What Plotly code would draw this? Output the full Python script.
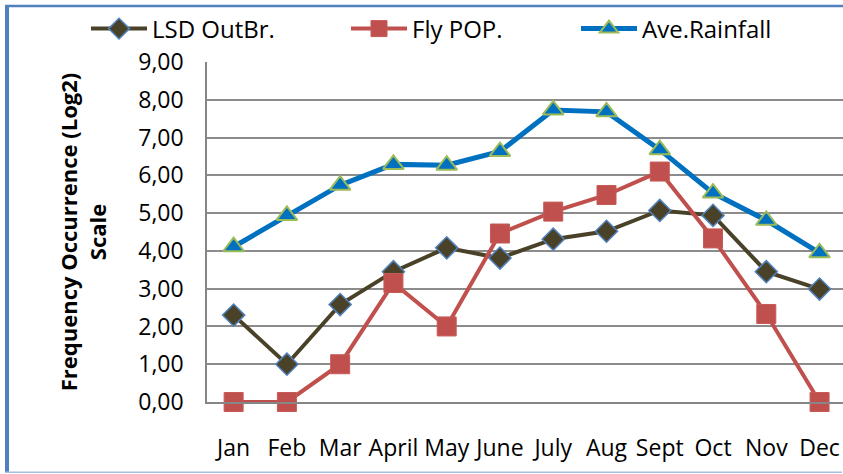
import plotly.graph_objects as go

months = ["Jan", "Feb", "Mar", "April", "May", "June", "July", "Aug", "Sept", "Oct", "Nov", "Dec"]
lsd_outbr = [2.30, 1.00, 2.58, 3.45, 4.08, 3.81, 4.31, 4.52, 5.07, 4.94, 3.45, 2.99]
fly_pop = [0.00, 0.00, 1.00, 3.15, 2.00, 4.46, 5.04, 5.48, 6.10, 4.33, 2.33, 0.00]
ave_rainfall = [4.11, 4.94, 5.74, 6.29, 6.27, 6.63, 7.73, 7.68, 6.68, 5.53, 4.81, 3.95]

FONT = "Open Sans"

fig = go.Figure()
fig.add_trace(go.Scatter(
    x=months, y=lsd_outbr, name="LSD OutBr.", mode="lines+markers",
    line=dict(color="#4a4228", width=4),
    marker=dict(symbol="diamond", size=17, color="#4a4228", line=dict(color="#4f81bd", width=1.5)),
    cliponaxis=False, legend="legend", showlegend=True))
fig.add_trace(go.Scatter(
    x=months, y=fly_pop, name="Fly POP.", mode="lines+markers",
    line=dict(color="#c0504d", width=4),
    marker=dict(symbol="square", size=19, color="#c0504d", line=dict(color="#c65a57", width=1)),
    cliponaxis=False, legend="legend2", showlegend=True))
fig.add_trace(go.Scatter(
    x=months, y=ave_rainfall, name="Ave.Rainfall", mode="lines+markers",
    line=dict(color="#0070c0", width=5),
    marker=dict(symbol="triangle-up", size=18, color="#0070c0", line=dict(color="#9bbb59", width=2)),
    cliponaxis=False, legend="legend3", showlegend=True))

W, H = 843, 474
L, R, T, B = 207, 0, 62, 72
pw, ph = W - L - R, H - T - B

def px(x):
    return (x - L) / pw

def py(y):
    return (H - B - y) / ph

legend_common = dict(orientation="h", yanchor="middle", xanchor="left",
                     xref="container", yref="container",
                     font=dict(family=FONT, size=24, color="black"),
                     bgcolor="rgba(0,0,0,0)", itemwidth=56)

# Top edge of the outer frame, drawn as short segments like the ones that rendered in tests
top_border = []
for a in range(5, 843, 40):
    b = min(a + 40, 843)
    top_border.append(dict(type="line", xref="paper", yref="paper", x0=px(a), x1=px(b),
                           y0=py(6), y1=py(6), line=dict(color="#4f81bd", width=2.5)))

fig.update_layout(
    width=W, height=H,
    showlegend=True,
    margin=dict(l=L, r=R, t=T, b=B, autoexpand=False),
    plot_bgcolor="white", paper_bgcolor="white",
    separators=",.",
    font=dict(family=FONT, size=23, color="black"),
    legend=dict(x=86 / W, y=1 - 29 / H, **legend_common),
    legend2=dict(x=346 / W, y=1 - 29 / H, **legend_common),
    legend3=dict(x=576 / W, y=1 - 29 / H, **legend_common),
    xaxis=dict(
        type="category", range=[-0.5, 11.44],
        showgrid=False, showline=True, linecolor="#868686", linewidth=1.5,
        ticks="", ticklabelstandoff=25,
        tickfont=dict(family=FONT, size=23, color="black")),
    yaxis=dict(
        range=[0, 9], dtick=1, tickformat=".2f",
        showgrid=True, gridcolor="#8c8c8c", gridwidth=1.5,
        showline=True, linecolor="#868686", linewidth=1.5,
        zeroline=False, ticks="", ticklabelstandoff=17,
        tickfont=dict(family=FONT, size=23, color="black"),
        title=dict(text="Frequency Occurrence (Log2)<br>Scale",
                   font=dict(family=FONT, size=22, color="black", weight="bold"),
                   standoff=26)),
    shapes=[
        dict(type="rect", xref="paper", yref="paper", x0=px(5), x1=px(9), y0=py(473), y1=py(5),
             line=dict(width=0), fillcolor="#4f81bd", layer="above"),
        dict(type="rect", xref="paper", yref="paper", x0=px(5), x1=px(842), y0=py(473), y1=py(471.5),
             line=dict(width=0), fillcolor="#a7bfe0", layer="above"),
    ] + top_border,
)

fig.write_html("out.html", config={"displayModeBar": False},
               post_script="document.body.style.margin='0';document.body.style.overflow='hidden';")
